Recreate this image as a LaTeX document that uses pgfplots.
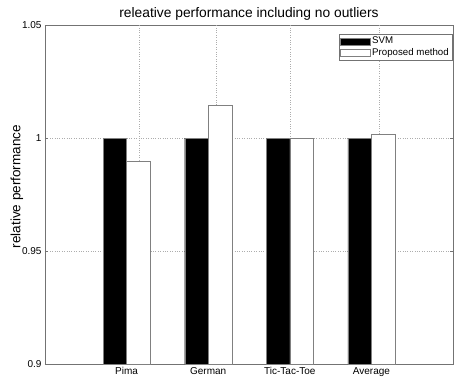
\documentclass[border=0pt]{standalone}
\usepackage{pgfplots}
\pgfplotsset{compat=1.18}
\usepackage{fontspec}
\setmainfont{Liberation Sans}
\begin{document}
\begin{tikzpicture}
\path[use as bounding box] (-45pt,-14pt) rectangle (409pt,364pt);
\begin{axis}[
  at={(0pt,0pt)}, anchor=south west,
  scale only axis, width=408pt, height=339pt,
  xmin=0, xmax=5, ymin=0.9, ymax=1.05,
  ybar, bar width=0.288,
  axis line style={draw=black!55},
  every tick/.style={draw=black!55},
  major tick length=3pt,
  /pgf/number format/assume math mode=true,
  ticklabel style={font=\fontsize{10}{12}\selectfont},
  xtick={1,2,3,4},
  xticklabels={Pima,German,Tic-Tac-Toe,Average},
  x tick style={draw=none},
  extra x ticks={1.149,2.102,3.001,4.095},
  extra x tick labels={},
  extra x tick style={grid=major, tick style={draw=black!55}},
  ytick={0.9,0.95,1,1.05},
  yticklabels={0.9,0.95,1,1.05},
  ymajorgrids,
  grid style={dotted, draw=black!32, line width=0.45pt},
  xticklabel style={yshift=3pt},
  title={releative performance including no outliers},
  title style={font=\fontsize{13.8}{15}\selectfont, at={(axis description cs:0.5,1)}, anchor=center, yshift=5pt},
  ylabel={relative performance},
  ylabel style={font=\fontsize{13.5}{15}\selectfont, at={(axis description cs:0,0.5)}, anchor=center, yshift=28pt, xshift=8pt},
  legend cell align=left,
  legend style={at={(axis description cs:1,1)}, anchor=north east, xshift=-1pt, yshift=-9pt,
    draw=black!55, font=\fontsize{9.7}{11}\selectfont, inner sep=1pt, row sep=-1pt},
  legend image code/.code={\draw[#1,/tikz/.cd] (0pt,-3.5pt) rectangle (30pt,3.5pt);},
]
\addplot[fill=black, draw=black!50, bar shift=-0.144] coordinates {(1,1) (2,1) (3,1) (4,1)};
\addplot[fill=white, draw=black!50, bar shift=0.144] coordinates {(1,0.9899) (2,1.0145) (3,1.0) (4,1.0017)};
\legend{SVM,Proposed method}
\end{axis}
\end{tikzpicture}
\end{document}
